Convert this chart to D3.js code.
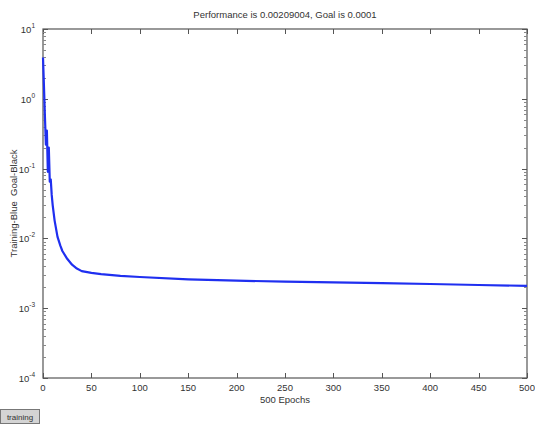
<!DOCTYPE html>
<html>
<head>
<meta charset="utf-8">
<script src="https://cdn.jsdelivr.net/npm/d3@7"></script>
<style>
  html, body { margin: 0; padding: 0; background: #fff; }
  svg text { font-family: "Liberation Sans", Arial, sans-serif; fill: #333; }
</style>
</head>
<body>
<div id="chart"></div>
<script>
// training performance per epoch
const epochs = [0, 1, 2, 3, 4, 5, 6, 7, 8, 9, 10, 12, 15, 18, 20, 25, 30, 35, 40, 50, 60, 80, 100, 150, 200, 250, 300, 350, 400, 450, 500];
const perf = [3.9, 1.5, 0.55, 0.22, 0.35, 0.09, 0.2, 0.065, 0.07, 0.042, 0.03, 0.018, 0.0105, 0.0078, 0.0066, 0.0051, 0.0042, 0.0037, 0.0034, 0.0032, 0.00307, 0.0029, 0.0028, 0.00259, 0.00248, 0.0024, 0.00234, 0.00228, 0.00222, 0.00215, 0.00209];
const xTicks = [0, 50, 100, 150, 200, 250, 300, 350, 400, 450, 500];
const yExps = [1, 0, -1, -2, -3, -4];
const titleText = 'Performance is 0.00209004, Goal is 0.0001';
const xLabel = '500 Epochs';
const yLabel = 'Training-Blue\u00a0\u00a0Goal-Black';

const W = 535, H = 424;
const m = { left: 43, right: 8, top: 29, bottom: 46 };

const svg = d3.select('#chart').append('svg')
  .attr('width', W).attr('height', H);

const x = d3.scaleLinear().domain([0, 500]).range([m.left, W - m.right]);
const y = d3.scaleLog().domain([1e-4, 10]).range([H - m.bottom, m.top]);

const axisColor = '#555';

// frame
svg.append('rect')
  .attr('x', x(0)).attr('y', y(10))
  .attr('width', x(500) - x(0)).attr('height', y(1e-4) - y(10))
  .attr('fill', 'none').attr('stroke', axisColor).attr('stroke-width', 1.2);

// x ticks, inside, top and bottom
xTicks.forEach(t => {
  const px = Math.round(x(t)) + 0.5;
  svg.append('line').attr('x1', px).attr('x2', px)
    .attr('y1', y(1e-4)).attr('y2', y(1e-4) - 5).attr('stroke', axisColor);
  svg.append('line').attr('x1', px).attr('x2', px)
    .attr('y1', y(10)).attr('y2', y(10) + 5).attr('stroke', axisColor);
  svg.append('text').attr('x', x(t)).attr('y', y(1e-4) + 13)
    .attr('text-anchor', 'middle').attr('font-size', 9.5).text(t);
});

// y ticks: majors + log minors, both sides
yExps.forEach(e => {
  const v = Math.pow(10, e);
  const py = Math.round(y(v)) + 0.5;
  svg.append('line').attr('x1', x(0)).attr('x2', x(0) + 5).attr('y1', py).attr('y2', py).attr('stroke', axisColor);
  svg.append('line').attr('x1', x(500)).attr('x2', x(500) - 5).attr('y1', py).attr('y2', py).attr('stroke', axisColor);
  const lbl = svg.append('text').attr('x', x(0) - 8).attr('y', y(v) + 4)
    .attr('text-anchor', 'end').attr('font-size', 9.5);
  lbl.append('tspan').text('10');
  lbl.append('tspan').attr('dy', -5).attr('font-size', 6.5).text(e);
  if (e > -4) {
    for (let k = 2; k <= 9; k++) {
      const my = Math.round(y(k * v / 10)) + 0.5;
      svg.append('line').attr('x1', x(0)).attr('x2', x(0) + 3).attr('y1', my).attr('y2', my).attr('stroke', '#888');
      svg.append('line').attr('x1', x(500)).attr('x2', x(500) - 3).attr('y1', my).attr('y2', my).attr('stroke', '#888');
    }
  }
});

// training curve
const line = d3.line()
  .x((d, i) => x(epochs[i]))
  .y(d => y(d));
svg.append('path')
  .datum(perf)
  .attr('d', line)
  .attr('fill', 'none')
  .attr('stroke', '#1f2ff0')
  .attr('stroke-width', 2.2)
  .attr('stroke-linejoin', 'round');

// labels
svg.append('text').attr('x', (x(0) + x(500)) / 2).attr('y', 18)
  .attr('text-anchor', 'middle').attr('font-size', 9.5).text(titleText);
svg.append('text').attr('x', (x(0) + x(500)) / 2).attr('y', 403)
  .attr('text-anchor', 'middle').attr('font-size', 9.5).text(xLabel);
svg.append('text')
  .attr('transform', `translate(17,${(y(10) + y(1e-4)) / 2}) rotate(-90)`)
  .attr('text-anchor', 'middle').attr('font-size', 9.5).text(yLabel);

// stop button at the bottom left
const btn = svg.append('g').attr('transform', 'translate(0,409)');
btn.append('rect').attr('x', 0.5).attr('y', 0.5).attr('width', 39).attr('height', 14)
  .attr('fill', '#d4d4d4').attr('stroke', '#777');
btn.append('text').attr('x', 20).attr('y', 10.5).attr('text-anchor', 'middle')
  .attr('font-size', 8).text('training');
</script>
</body>
</html>
